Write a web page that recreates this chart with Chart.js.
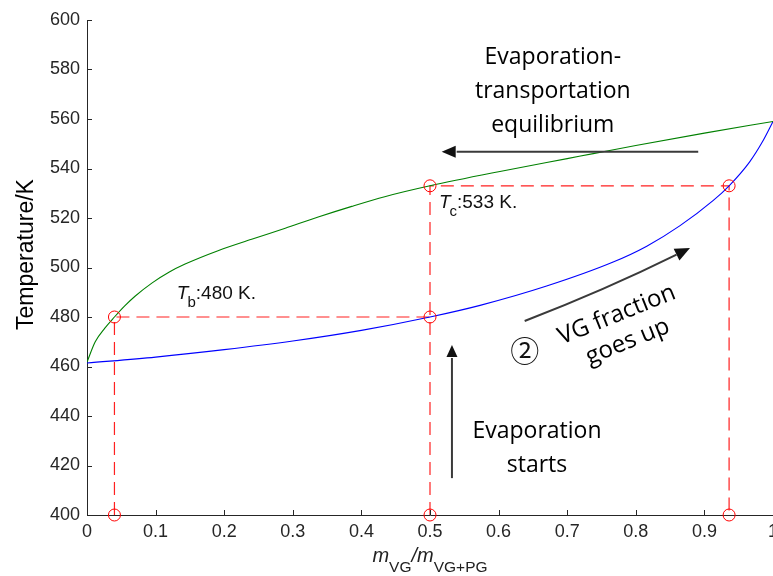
<!DOCTYPE html>
<html><head><meta charset="utf-8">
<script src="https://cdn.jsdelivr.net/npm/chart.js@4.4.0/dist/chart.umd.min.js"></script>
<style>html,body{margin:0;padding:0;background:#fff;overflow:hidden;width:773px;height:576px;}canvas{display:block;}</style>
</head><body>
<canvas id="c" width="773" height="576"></canvas>
<script>
// ---- data (x = m_VG / m_VG+PG, y = temperature in K) ----
const dewX = [0, 0.012, 0.026, 0.04, 0.055, 0.07, 0.095, 0.12, 0.143, 0.191, 0.24, 0.289, 0.337, 0.386, 0.434, 0.5, 0.6, 0.7, 0.738, 0.8, 0.9, 1.0];
const dewT = [461.8, 470, 475.5, 480, 484.5, 488.4, 493.8, 498.2, 501.4, 506.8, 511.4, 515.9, 520.4, 524.7, 528.6, 533, 538.7, 544, 546, 549.3, 554.3, 559];
const bubX = [0, 0.1, 0.2, 0.3, 0.4, 0.5, 0.573, 0.67, 0.767, 0.816, 0.864, 0.913, 0.936, 0.966, 0.985, 1.0];
const bubT = [461.4, 463.8, 466.8, 470.3, 474.6, 480, 484.7, 492.5, 502.2, 508.6, 516.8, 527.1, 533, 542.7, 551, 559];
const guideX = [0.04, 0.5, 0.936];   // Tb composition, mid composition, Tc composition
const guideT = [480, 533];           // Tb, Tc
const baseT = 400;
const xTicks = [0, 0.1, 0.2, 0.3, 0.4, 0.5, 0.6, 0.7, 0.8, 0.9, 1];
const xTickLabels = ['0', '0.1', '0.2', '0.3', '0.4', '0.5', '0.6', '0.7', '0.8', '0.9', '1'];
const yTicks = [400, 420, 440, 460, 480, 500, 520, 540, 560, 580, 600];
const yTickLabels = ['400', '420', '440', '460', '480', '500', '520', '540', '560', '580', '600'];

const pts = (xs, ys) => xs.map((v, i) => ({x: v, y: ys[i]}));
const seg1 = [{x: guideX[0], y: baseT}, {x: guideX[0], y: guideT[0]}, {x: guideX[1], y: guideT[0]}];
const seg2 = [{x: guideX[1], y: baseT}, {x: guideX[1], y: guideT[1]}, {x: guideX[2], y: guideT[1]}, {x: guideX[2], y: baseT}];
const circles = [
  {x: guideX[0], y: baseT}, {x: guideX[0], y: guideT[0]},
  {x: guideX[1], y: baseT}, {x: guideX[1], y: guideT[0]}, {x: guideX[1], y: guideT[1]},
  {x: guideX[2], y: baseT}, {x: guideX[2], y: guideT[1]}
];

const AX = '#262626';
const ARIAL = '"Liberation Sans", Arial, sans-serif';
const CAL = '"Open Sans", "Noto Sans", sans-serif';
const PLOT_RIGHT = 773;

const overlay = {
  id: 'overlay',
  afterDraw(chart) {
    const {ctx, chartArea: ca, scales: {x, y}} = chart;
    const X = v => x.getPixelForValue(v), Y = v => y.getPixelForValue(v);
    ctx.save();
    // inward ticks
    ctx.strokeStyle = AX; ctx.lineWidth = 1;
    ctx.beginPath();
    yTicks.forEach(v => { const py = Math.round(Y(v)) + 0.5; ctx.moveTo(ca.left, py); ctx.lineTo(ca.left + 5, py); });
    xTicks.forEach(v => { const px = Math.round(X(v)) + 0.5; ctx.moveTo(px, ca.bottom); ctx.lineTo(px, ca.bottom - 5); });
    ctx.stroke();

    // y axis title
    ctx.fillStyle = '#000';
    ctx.save();
    ctx.translate(33, (ca.top + ca.bottom) / 2 - 13);
    ctx.rotate(-Math.PI / 2);
    ctx.font = '23px ' + ARIAL; ctx.textAlign = 'center'; ctx.textBaseline = 'alphabetic';
    ctx.fillText('Temperature/K', 0, 0);
    ctx.restore();

    // x axis title m_VG / m_VG+PG
    const parts = [
      {t: 'm', f: 'italic 20px ' + ARIAL, dy: 0},
      {t: 'VG', f: '15.5px ' + ARIAL, dy: 10},
      {t: '/', f: 'italic 20px ' + ARIAL, dy: 0},
      {t: 'm', f: 'italic 20px ' + ARIAL, dy: 0},
      {t: 'VG+PG', f: '15.5px ' + ARIAL, dy: 10}
    ];
    let tot = 0;
    parts.forEach(p => { ctx.font = p.f; p.w = ctx.measureText(p.t).width; tot += p.w; });
    let cx = (ca.left + ca.right) / 2 - tot / 2;
    ctx.textAlign = 'left'; ctx.textBaseline = 'alphabetic'; ctx.fillStyle = '#222';
    parts.forEach(p => { ctx.font = p.f; ctx.fillText(p.t, cx, 562 + p.dy); cx += p.w; });

    // annotation texts
    ctx.fillStyle = '#000';
    ctx.font = '23px ' + CAL; ctx.textAlign = 'center';
    ctx.fillText('Evaporation-', X(0.679), Y(582.2));
    ctx.fillText('transportation', X(0.679), Y(568.5));
    ctx.fillText('equilibrium', X(0.679), Y(554.7));
    ctx.fillText('Evaporation', X(0.656), Y(431.1));
    ctx.fillText('starts', X(0.656), Y(417.4));

    // rotated "VG fraction goes up"
    ctx.save();
    ctx.translate(X(0.78), Y(475.6));
    ctx.rotate(-22 * Math.PI / 180);
    ctx.font = '24px ' + CAL; ctx.textBaseline = 'middle'; ctx.textAlign = 'center';
    ctx.fillText('VG fraction', 0, -14);
    ctx.fillText('goes up', 0, 15);
    ctx.restore();

    // circled 2
    ctx.font = '29px "Noto Sans CJK JP", "DejaVu Sans", sans-serif'; ctx.textAlign = 'center'; ctx.textBaseline = 'middle';
    ctx.fillStyle = '#111';
    ctx.fillText('\u2461', X(0.638), Y(466.3));

    // Tc / Tb labels
    const sublabel = (px, py, sub, rest) => {
      ctx.textAlign = 'left'; ctx.textBaseline = 'alphabetic'; ctx.fillStyle = '#111';
      ctx.font = 'italic 19px ' + ARIAL; ctx.fillText('T', px, py);
      let w = ctx.measureText('T').width;
      ctx.font = '15px ' + ARIAL; ctx.fillText(sub, px + w - 1, py + 8);
      w += ctx.measureText(sub).width - 1;
      ctx.font = '19px ' + ARIAL; ctx.fillText(rest, px + w, py);
    };
    sublabel(X(0.513), Y(524.0), 'c', ':533 K.');
    sublabel(X(0.131), Y(487.3), 'b', ':480 K.');

    // arrows
    ctx.strokeStyle = '#3a3a3a'; ctx.fillStyle = '#111'; ctx.lineWidth = 2;
    const head = (tx, ty, dx, dy, len, hw) => {
      const n = Math.hypot(dx, dy); dx /= n; dy /= n;
      const bx = tx - dx * len, by = ty - dy * len;
      ctx.beginPath(); ctx.moveTo(tx, ty);
      ctx.lineTo(bx - dy * hw, by + dx * hw); ctx.lineTo(bx + dy * hw, by - dx * hw);
      ctx.closePath(); ctx.fill();
      return [bx, by];
    };
    // left arrow
    let ax0 = X(0.891), ay = Y(546.8), ax1 = X(0.517);
    let b = head(ax1, ay, -1, 0, 14, 6);
    ctx.beginPath(); ctx.moveTo(ax0, ay); ctx.lineTo(b[0] + 1, ay); ctx.stroke();
    // vertical arrow
    let vx = X(0.532), vy0 = Y(414.9), vy1 = Y(468.7);
    b = head(vx, vy1, 0, -1, 12, 5.5);
    ctx.beginPath(); ctx.moveTo(vx, vy0); ctx.lineTo(vx, b[1] + 1); ctx.stroke();
    // curved arrow
    const p0 = [X(0.638), Y(478.4)], c1 = [X(0.755), Y(490.9)], p1 = [X(0.879), Y(507.9)];
    b = head(p1[0], p1[1], p1[0] - c1[0], p1[1] - c1[1], 15, 6.5);
    ctx.beginPath(); ctx.moveTo(p0[0], p0[1]); ctx.quadraticCurveTo(c1[0], c1[1], b[0], b[1]); ctx.stroke();

    ctx.restore();
  }
};

function config() {
  return {
    type: 'scatter',
    data: {
      datasets: [
        {data: circles, showLine: false, pointStyle: 'circle', pointRadius: 6, pointHoverRadius: 6,
         borderColor: '#ff0000', backgroundColor: 'rgba(0,0,0,0)', pointBorderWidth: 1, borderWidth: 1, clip: false, order: 0},
        {data: pts(dewX, dewT), showLine: true, borderColor: '#008000', borderWidth: 1.1, pointRadius: 0,
         cubicInterpolationMode: 'monotone', order: 1},
        {data: pts(bubX, bubT), showLine: true, borderColor: '#0000ff', borderWidth: 1.1, pointRadius: 0,
         cubicInterpolationMode: 'monotone', order: 1},
        {data: seg1, showLine: true, borderColor: '#ff2020', borderWidth: 1.2, borderDash: [13, 7], pointRadius: 0, order: 2},
        {data: seg2, showLine: true, borderColor: '#ff2020', borderWidth: 1.2, borderDash: [13, 7], pointRadius: 0, order: 2}
      ]
    },
    options: {
      responsive: false, animation: false, devicePixelRatio: 1,
      layout: {padding: {top: 20, right: 0, left: 0, bottom: 0}},
      plugins: {legend: {display: false}, tooltip: {enabled: false}},
      events: [],
      scales: {
        x: {
          type: 'linear', min: 0, max: 1,
          afterBuildTicks: s => { s.ticks = xTicks.map(v => ({value: v})); },
          afterFit: s => { s.height = 61; s.paddingLeft = 0; s.paddingRight = 0; },
          grid: {display: true, drawOnChartArea: false, drawTicks: false, color: 'rgba(0,0,0,0)'},
          border: {display: true, color: AX, width: 1},
          ticks: {padding: 6, color: AX, maxRotation: 0, autoSkip: false,
                  font: {family: ARIAL, size: 18}, callback: (v, i) => xTickLabels[i]}
        },
        y: {
          type: 'linear', min: 400, max: 600,
          afterBuildTicks: s => { s.ticks = yTicks.map(v => ({value: v})); },
          afterFit: s => { s.width = 87; s.paddingTop = 0; s.paddingBottom = 0; },
          grid: {display: true, drawOnChartArea: false, drawTicks: false, color: 'rgba(0,0,0,0)'},
          border: {display: true, color: AX, width: 1},
          ticks: {padding: 7, color: AX, autoSkip: false,
                  font: {family: ARIAL, size: 18}, callback: (v, i) => yTickLabels[i]}
        }
      }
    },
    plugins: [overlay]
  };
}

const canvas = document.getElementById('c');
let chart = new Chart(canvas, config());
const diff = Math.round(PLOT_RIGHT - chart.chartArea.right);
if (diff !== 0) {
  chart.destroy();
  canvas.width = 773 + diff; canvas.height = 576;
  canvas.style.width = (773 + diff) + 'px'; canvas.style.height = '576px';
  chart = new Chart(canvas, config());
}
</script>
</body></html>
